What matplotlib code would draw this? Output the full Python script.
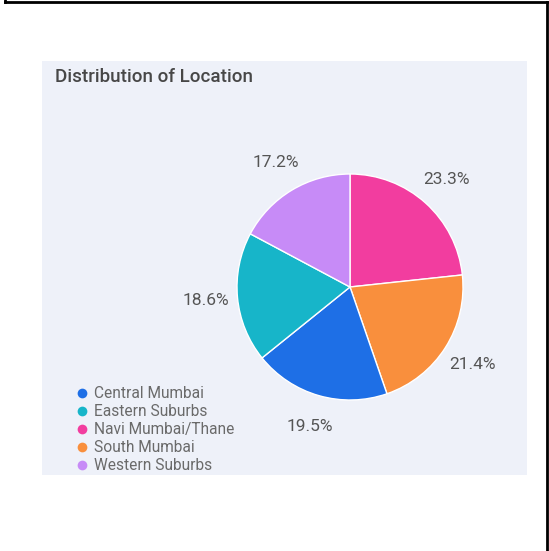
import matplotlib
matplotlib.use("Agg")
import matplotlib.pyplot as plt
from matplotlib.lines import Line2D
from matplotlib.patches import Rectangle

# data, clockwise from 12 o'clock
slice_names = ["Navi Mumbai/Thane", "South Mumbai", "Central Mumbai",
               "Eastern Suburbs", "Western Suburbs"]
slice_share = [23.3, 21.4, 19.5, 18.6, 17.2]
slice_colors = ["#f23d9f", "#f98f3d", "#1e6fe6", "#17b5c9", "#c78bf7"]

# legend order
legend_names = ["Central Mumbai", "Eastern Suburbs", "Navi Mumbai/Thane",
                "South Mumbai", "Western Suburbs"]

W, H = 549, 551
plt.rcParams['font.family'] = ['Roboto', 'DejaVu Sans']
fig = plt.figure(figsize=(W / 100, H / 100), dpi=100)


def fx(px):
    return px / W


def fy(py):
    return 1 - py / H


# outer black frame (left, top, right)
for xs, ys in [((5, 5), (0, 2)), ((5, 547), (2, 2)), ((547, 547), (2, 551))]:
    fig.add_artist(Line2D([fx(x) for x in xs], [fy(y) for y in ys],
                          color="black", lw=2, transform=fig.transFigure))

# light card
fig.add_artist(Rectangle((fx(42), fy(475)), fx(527) - fx(42), fy(61) - fy(475),
                         transform=fig.transFigure, facecolor="#eef1f9",
                         edgecolor="none", zorder=0))

fig.text(fx(55), fy(77), "Distribution of Location", fontsize=13.5,
         color="#474747", fontweight="medium", va="center", ha="left")

cx, cy, r = 350, 287, 113
ax = fig.add_axes([fx(cx - r), fy(cy + r), 2 * r / W, 2 * r / H])
wedges, texts = ax.pie(slice_share, colors=slice_colors, startangle=90,
                       counterclock=False, radius=1,
                       labels=[f"{v}%" for v in slice_share],
                       labeldistance=1.28,
                       wedgeprops=dict(edgecolor="white", linewidth=1),
                       textprops=dict(fontsize=12.5, color="#555555"))
for t in texts:
    t.set_ha("center")
    t.set_va("center")
ax.set_xlim(-1, 1)
ax.set_ylim(-1, 1)
ax.set_aspect("equal")
ax.axis("off")

color_of = dict(zip(slice_names, slice_colors))
handles = [Line2D([], [], marker="o", linestyle="", markersize=7,
                  markerfacecolor=color_of[n], markeredgecolor="none")
           for n in legend_names]
fig.legend(handles, legend_names, loc="upper left",
           bbox_to_anchor=(fx(76), fy(386)), frameon=False, fontsize=11.2,
           labelcolor="#6a6a6a", handlelength=0.8, handletextpad=0.35,
           labelspacing=0.2, borderpad=0, borderaxespad=0)

fig.savefig("out.png", dpi=100)
